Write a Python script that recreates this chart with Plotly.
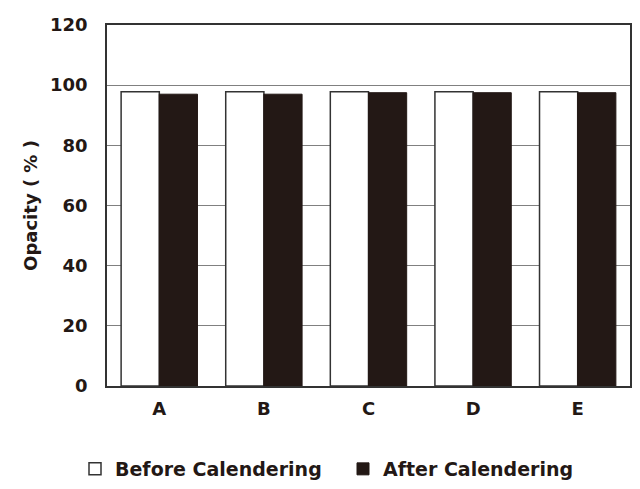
import plotly.graph_objects as go

categories = ["A", "B", "C", "D", "E"]
before_values = [97.8, 97.8, 97.8, 97.8, 97.8]
after_values = [97.0, 97.0, 97.5, 97.5, 97.5]
y_ticks = [0, 20, 40, 60, 80, 100, 120]

font_family = "DejaVu Sans, Liberation Sans, Arial, sans-serif"
ink = "#231815"

fig = go.Figure()
fig.add_trace(go.Bar(
    x=categories, y=before_values, name="Before Calendering",
    marker=dict(color="white", line=dict(color="#333333", width=1.5)),
    legend="legend",
))
fig.add_trace(go.Bar(
    x=categories, y=after_values, name="After Calendering",
    marker=dict(color=ink, line=dict(color=ink, width=1)),
    legend="legend2",
))

W, H = 632, 481
legend_font = dict(size=19, family=font_family, weight="bold")
fig.update_layout(
    width=W, height=H,
    paper_bgcolor="white", plot_bgcolor="white",
    margin=dict(l=99, r=10, t=17, b=103),
    barmode="group", bargap=0.27, bargroupgap=0,
    font=dict(family=font_family, color=ink),
    legend=dict(
        orientation="h", xref="container", yref="container",
        x=67 / W, xanchor="left", y=1 - 461 / H, yanchor="middle",
        font=legend_font,
    ),
    legend2=dict(
        orientation="h", xref="container", yref="container",
        x=335 / W, xanchor="left", y=1 - 461 / H, yanchor="middle",
        font=legend_font,
    ),
    showlegend=True,
)
fig.update_yaxes(
    range=[0, 120], tickvals=y_ticks, ticktext=[str(v) for v in y_ticks],
    showgrid=True, gridcolor="#808080", gridwidth=1.2,
    showline=True, linecolor="#333333", linewidth=1.5, mirror=True,
    ticks="", ticklabelstandoff=14, automargin=False,
    tickfont=dict(size=18, family=font_family, weight="bold"),
    title=dict(text="Opacity ( % )", font=dict(size=18, family=font_family, weight="bold"), standoff=8),
    zeroline=False,
)
fig.update_xaxes(
    showline=True, linecolor="#333333", linewidth=1.5, mirror=True,
    ticks="", ticklabelstandoff=6, automargin=False,
    tickfont=dict(size=18, family=font_family, weight="bold"),
    showgrid=False,
)

fig.write_html("out.html")
